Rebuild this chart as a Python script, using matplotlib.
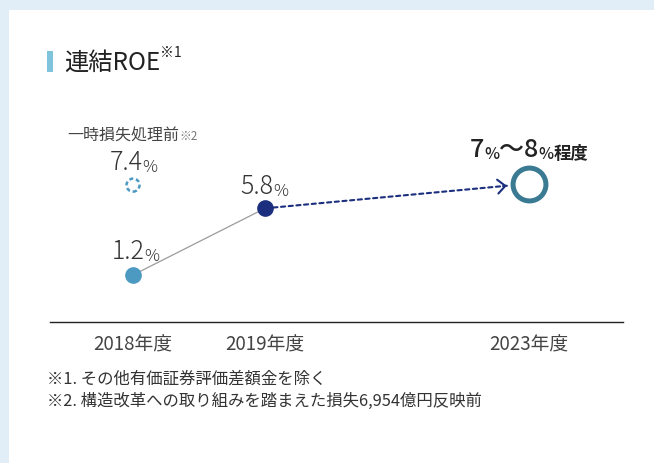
import matplotlib
matplotlib.use("Agg")
import matplotlib.pyplot as plt
from matplotlib.patches import Rectangle
import numpy as np

plt.rcParams['font.family'] = ['Noto Sans CJK JP', 'DejaVu Sans']

# ---------------- data ----------------
categories = ["2018年度", "2019年度", "2023年度"]
cat_slots = [0, 1, 3]            # 2020-2022 are skipped (one gap slot)
roe_actual = [1.2, 5.8]          # 2018, 2019 (%)
roe_before_loss = 7.4            # 2018 before one-time loss (%)
roe_target_range = [7, 8]        # 2023 target (%)
title_text = "連結ROE"
title_note = "※1"
before_loss_text = "一時損失処理前"
before_loss_note = "※2"
target_suffix = "程度"
footnotes = ["※1. その他有価証券評価差額金を除く",
             "※2. 構造改革への取り組みを踏まえた損失6,954億円反映前"]

target_mid = sum(roe_target_range) / 2

# ---------------- style ----------------
W, H = 654, 464
TEXT = '#333333'
LIGHT = '#4c9ac2'
NAVY = '#1b2f7e'
RING = '#3b7a93'

fig = plt.figure(figsize=(W / 100, H / 100), dpi=100)
fig.patch.set_facecolor('#e1eef7')
fig.add_artist(Rectangle((9 / W, 0), 1, 1 - 11 / H, transform=fig.transFigure,
                         facecolor='white', edgecolor='none', zorder=-10))

ax = fig.add_axes([50 / W, (H - 323) / H, 573 / W, 223 / H])
ax.set_facecolor('none')
ax.set_xlim(-0.629, 3.712)
ax.set_ylim(-2.04, 13.34)
for s in ['top', 'right', 'left']:
    ax.spines[s].set_visible(False)
ax.spines['bottom'].set_color('#222222')
ax.spines['bottom'].set_linewidth(1.0)
ax.set_yticks([])
ax.set_xticks(cat_slots)
ax.set_xticklabels(categories, fontsize=13.5, color='#444444')
ax.tick_params(axis='x', length=0, pad=8)

# actual line
ax.plot(cat_slots[:2], roe_actual, color='#9b9b9b', lw=0.9, zorder=2)
ax.plot(cat_slots[0], roe_actual[0], 'o', ms=12, color=LIGHT, mec='none', zorder=4)
ax.plot(cat_slots[1], roe_actual[1], 'o', ms=12, color=NAVY, mec='none', zorder=4)

# before-loss dashed circle
ax.scatter([cat_slots[0]], [roe_before_loss], s=88, facecolors='none',
           edgecolors=LIGHT, linewidths=1.8, linestyles=(0, (1.6, 1.1)), zorder=4)

# target ring
ax.scatter([cat_slots[2]], [target_mid], s=560, facecolors='white',
           edgecolors=RING, linewidths=3.6, zorder=4)

# dotted arrow
p0 = (cat_slots[1], roe_actual[1])
p1 = (cat_slots[2], target_mid)
ax.annotate('', xy=p1, xytext=p0,
            arrowprops=dict(arrowstyle='-', color=NAVY, lw=1.5,
                            linestyle=(0, (2.0, 1.7)), shrinkA=6, shrinkB=16))
d0 = ax.transData.transform(p0)
d1 = ax.transData.transform(p1)
u = (d1 - d0) / np.linalg.norm(d1 - d0)
off = -u * (22 + 4) * 0.72
ax.annotate('', xy=p1, xytext=(off[0], off[1]), textcoords='offset points',
            arrowprops=dict(arrowstyle='->,head_length=0.55,head_width=0.5',
                            color=NAVY, lw=1.5, shrinkA=0, shrinkB=16,
                            mutation_scale=10))


def chain_label(xy, offset, parts, color=TEXT):
    prev = None
    for txt, size, weight in parts:
        if prev is None:
            prev = ax.annotate(txt, xy=xy, xytext=offset, textcoords='offset points',
                               ha='left', va='baseline', fontsize=size,
                               fontweight=weight, color=color, zorder=6)
        else:
            prev = ax.annotate(txt, xy=(1, 0), xycoords=prev, ha='left',
                               va='bottom', fontsize=size, fontweight=weight,
                               color=color, zorder=6)
    return prev


chain_label((cat_slots[0], roe_actual[0]), (-15.5, 12),
            [(f"{roe_actual[0]:.1f}", 18, 'light'), ("%", 12, 'light')])
chain_label((cat_slots[1], roe_actual[1]), (-17.5, 11),
            [(f"{roe_actual[1]:.1f}", 18, 'light'), ("%", 12, 'light')])
chain_label((cat_slots[0], roe_before_loss), (-17, 11.5),
            [(f"{roe_before_loss:.1f}", 18, 'light'), ("%", 12, 'light')])

t = ax.annotate(before_loss_text, xy=(cat_slots[0], roe_before_loss), xytext=(-47, 33),
                textcoords='offset points', ha='left', va='baseline',
                fontsize=11.5, color='#444444')
ax.annotate(before_loss_note, xy=(1, 0.1), xycoords=t, ha='left', va='bottom',
            fontsize=8.5, color='#777777')

chain_label(p1, (-42.5, 20),
            [(f"{roe_target_range[0]}", 18, 'medium'), ("%", 11.5, 'medium'),
             ("〜", 18, 'medium'), (f"{roe_target_range[1]}", 18, 'medium'),
             ("%", 11.5, 'medium'), (target_suffix, 12.5, 'bold')], color='#222222')

# title
fig.add_artist(Rectangle((47 / W, 1 - 73 / H), 6 / W, 21 / H, transform=fig.transFigure,
                         facecolor='#7fc3dc', edgecolor='none'))
tt = fig.text(64 / W, 1 - 62.5 / H, title_text, fontsize=17.5, color='#222222',
              ha='left', va='center')
fig.add_artist(matplotlib.text.Annotation(title_note, xy=(1, 0.6), xycoords=tt,
                                          ha='left', va='bottom', fontsize=10,
                                          color='#222222'))

# footnotes
for i, note in enumerate(footnotes):
    fig.text(47 / W, 1 - (379 + 22 * i) / H, note, fontsize=11.8, color='#333333',
             ha='left', va='center')

fig.savefig('out.png', dpi=100, facecolor=fig.get_facecolor())
